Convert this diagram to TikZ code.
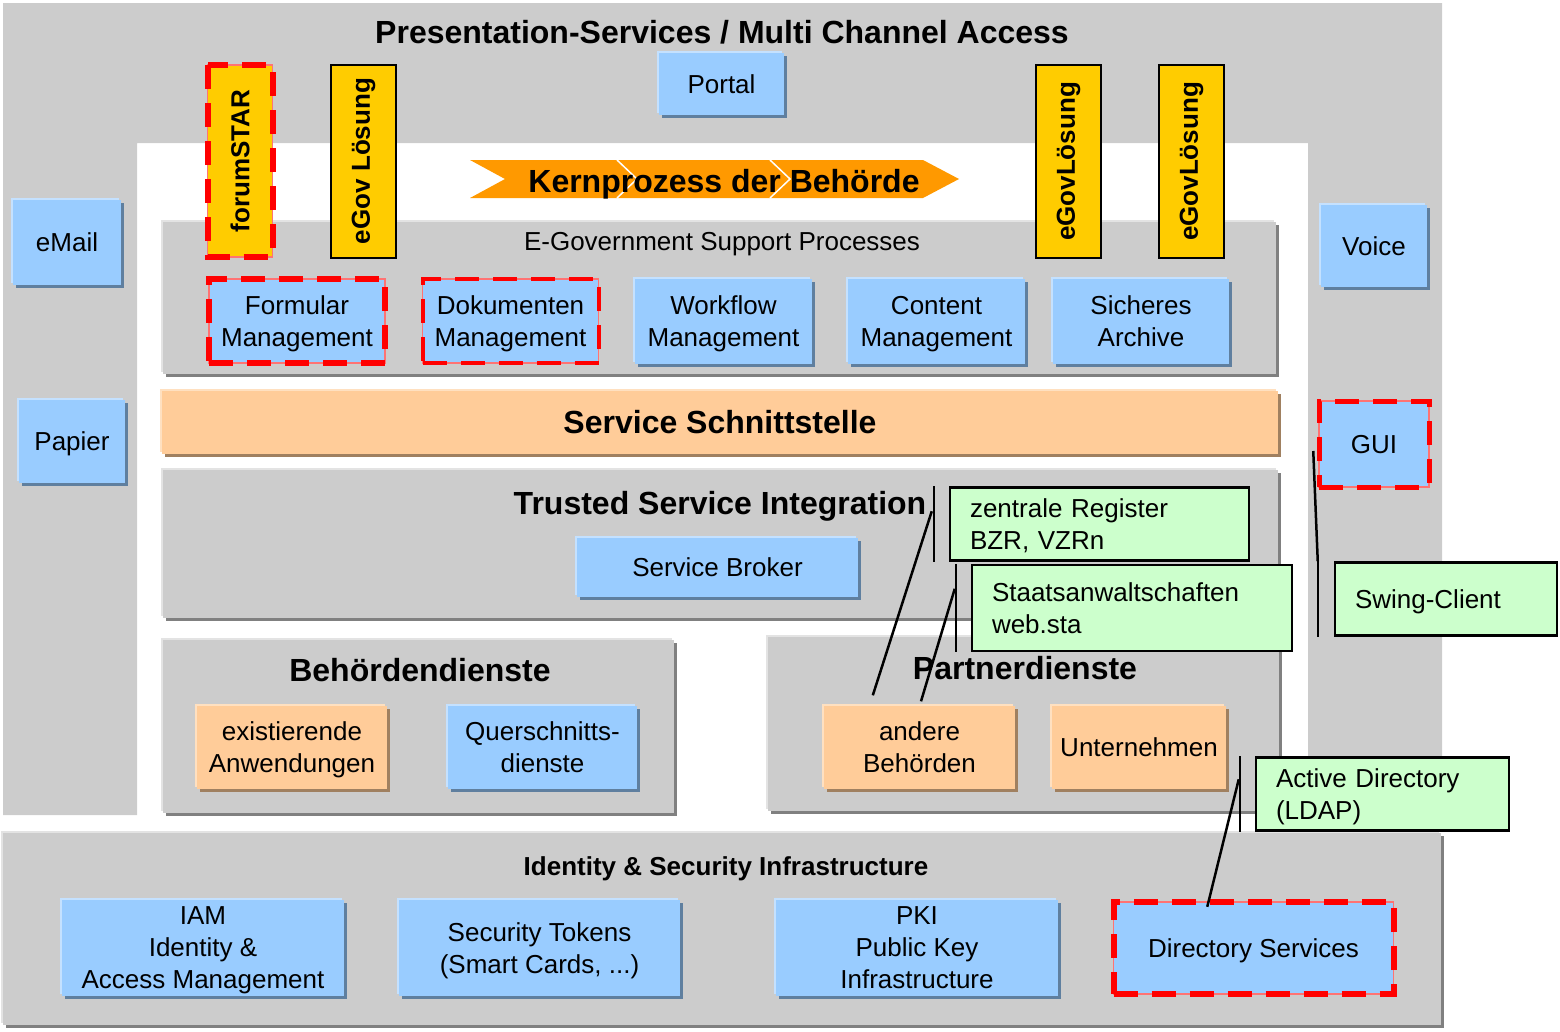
\documentclass[tikz,border=0pt]{standalone}
\usepackage{fontspec}
\setmainfont{Liberation Sans}
\usepackage{tikz}
\usetikzlibrary{arrows,positioning,shadows}
\definecolor{panelgray}{HTML}{CCCCCC}
\definecolor{panellight}{HTML}{E3E3E3}
\definecolor{paneldark}{HTML}{808080}
\definecolor{svcblue}{HTML}{99CCFF}
\definecolor{svclight}{HTML}{C4E1FF}
\definecolor{svcdark}{HTML}{5F7F9F}
\definecolor{peach}{HTML}{FFCC99}
\definecolor{peachlight}{HTML}{FFE0C0}
\definecolor{peachdark}{HTML}{A08060}
\definecolor{solyellow}{HTML}{FFCC00}
\definecolor{notegreen}{HTML}{CCFFCC}
\definecolor{coreorange}{HTML}{FF9900}
\newcommand{\normaltext}{\fontsize{26}{32}\selectfont}
\newcommand{\titletext}{\fontsize{32}{38}\selectfont\bfseries}
\tikzset{
    %Define standard arrow tip
    >=stealth',
    %Define 3d look for boxes
    raised/.style 2 args={
           general shadow={shadow xshift=-2pt, shadow yshift=2pt, fill=#1},
           general shadow={shadow xshift=3pt, shadow yshift=-3pt, fill=#2}},
    %Define style for boxes
    panel/.style={
           rectangle,
           fill=panelgray,
           raised={panellight}{paneldark},
           inner sep=0pt},
    service/.style={
           rectangle,
           fill=svcblue,
           raised={svclight}{svcdark},
           font=\normaltext,
           align=center,
           text depth=0pt,
           inner sep=0pt},
    redservice/.style={
           rectangle,
           fill=svcblue,
           font=\normaltext,
           align=center,
           text depth=0pt,
           inner sep=0pt},
    partner/.style={
           rectangle,
           fill=peach,
           raised={peachlight}{peachdark},
           font=\normaltext,
           align=center,
           text depth=0pt,
           inner sep=0pt},
    solution/.style={
           rectangle,
           fill=solyellow,
           draw=black, line width=2pt,
           font=\fontsize{26}{32}\selectfont\bfseries,
           inner sep=0pt},
    note/.style={
           rectangle,
           fill=notegreen,
           draw=black, line width=2.5pt,
           font=\normaltext,
           align=left,
           inner xsep=20pt, inner ysep=0pt},
    redmark/.style={
           draw=red!55, line width=1.5pt,
           postaction={draw=red, line width=#1, dash pattern=on 24pt off 14pt}},
    redmark/.default=5pt,
    title/.style={font=\titletext, text depth=0pt, inner sep=0pt},
    % Define callout line style
    callline/.style={
           draw=black,
           line width=2.5pt}
}
\begin{document}
\begin{tikzpicture}[x=1pt,y=-1pt]
\useasboundingbox (0,0) rectangle (1560,1031);
 %presentation frame
\fill[panelgray] (3,3) -- (1442,3) -- (1442,815) -- (1308,815) -- (1308,143)
   -- (137,143) -- (137,815) -- (3,815) -- cycle;
\node[title] (pres) at (722,32) {Presentation-Services / Multi Channel Access};
\node[service, minimum width=125pt, minimum height=62pt] (portal) at (721.5,84) {Portal};
\node[service, minimum width=108pt, minimum height=85pt] (email) at (67,242) {eMail};
\node[service, minimum width=106pt, minimum height=83pt] (papier) at (72,441) {Papier};
\node[service, minimum width=106pt, minimum height=82pt] (voice) at (1374,246) {Voice};
\node[redservice, redmark, minimum width=110pt, minimum height=86pt] (gui) at (1374,444) {GUI};
 %core process
\fill[coreorange] (470,160) -- (923,160) -- (959,179) -- (923,198) -- (470,198) -- (505,179) -- cycle;
\draw[white, line width=1.5pt] (617,160) -- (637,179) -- (617,198);
\draw[white, line width=1.5pt] (770,160) -- (790,179) -- (770,198);
\node[title] (kern) at (724,181) {Kernprozess der Behörde};
 %support processes
\node[panel, minimum width=1113pt, minimum height=152pt] (support) at (719.5,298) {};
\node[font=\normaltext, text depth=0pt, inner sep=0pt] (supportlbl) at (722,241) {E-Government Support Processes};
\node[redservice, redmark=6pt, minimum width=176pt, minimum height=84pt] (formular) at (297,321) {Formular\\Management};
\node[redservice, redmark=4pt, minimum width=176pt, minimum height=84pt] (dokumente) at (510.5,321) {Dokumenten\\Management};
\node[service, minimum width=177pt, minimum height=85pt] (workflow) at (723.5,321) {Workflow\\Management};
\node[service, minimum width=177pt, minimum height=85pt] (content) at (936.5,321) {Content\\Management};
\node[service, minimum width=176pt, minimum height=85pt] (archiv) at (1141,321) {Sicheres\\Archive};
 %egov solutions
\node[solution, fill=solyellow, draw=none, redmark=6pt, rotate=90, minimum width=192pt, minimum height=65pt] (forum) at (240,161) {forumSTAR};
\node[solution, rotate=90, minimum width=193pt, minimum height=65pt] (egov1) at (363.5,161) {eGov Lösung};
\node[solution, rotate=90, minimum width=193pt, minimum height=65pt] (egov2) at (1068.5,161.5) {eGovLösung};
\node[solution, rotate=90, minimum width=193pt, minimum height=65pt] (egov3) at (1191.5,161.5) {eGovLösung};
 %service interface
\node[partner, font=\titletext, minimum width=1116pt, minimum height=63pt] (schnitt) at (720,422) {Service Schnittstelle};
 %trusted service integration
\node[panel, minimum width=1115pt, minimum height=148pt] (trusted) at (720.5,544) {};
\node[title] (trustedlbl) at (720,503) {Trusted Service Integration};
\node[service, minimum width=281pt, minimum height=59pt] (broker) at (717.5,567) {Service Broker};
 %authority services
\node[panel, minimum width=511pt, minimum height=173pt] (behoerde) at (418.5,726.5) {};
\node[title] (behoerdelbl) at (420,670) {Behördendienste};
\node[partner, minimum width=190pt, minimum height=83pt] (exist) at (292,747) {existierende\\Anwendungen};
\node[service, minimum width=189pt, minimum height=83pt] (quer) at (542.5,747) {Querschnitts-\\dienste};
 %partner services
\node[panel, minimum width=511pt, minimum height=174pt] (partner) at (1023.5,724) {};
\node[title] (partnerlbl) at (1025,668) {Partnerdienste};
\node[partner, minimum width=191pt, minimum height=83pt] (ab) at (919.5,747) {andere\\Behörden};
\node[partner, minimum width=174pt, minimum height=83pt] (firma) at (1139,747) {Unternehmen};
 %identity and security
\node[panel, minimum width=1438pt, minimum height=192pt] (identity) at (722,929) {};
\node[title, font=\fontsize{26}{32}\selectfont\bfseries] (identitylbl) at (726,866) {Identity \& Security Infrastructure};
\node[service, minimum width=282pt, minimum height=96pt] (iam) at (203,948) {IAM\\Identity \&\\Access Management};
\node[service, minimum width=281pt, minimum height=96pt] (token) at (539.5,948) {Security Tokens\\(Smart Cards, ...)};
\node[service, minimum width=282pt, minimum height=96pt] (pki) at (917,948) {PKI\\Public Key\\Infrastructure};
\node[redservice, redmark=6pt, minimum width=280pt, minimum height=92pt] (ds) at (1253.5,948) {Directory Services};
 %callouts
\node[note, text width=259pt, text depth=32pt, minimum height=73pt] (zr) at (1099.5,524) {zentrale Register\\BZR, VZRn};
\node[note, text width=280pt, text depth=32pt, minimum height=86pt] (sa) at (1132,608) {Staatsanwaltschaften\\web.sta};
\node[note, text width=182pt, text depth=0pt, minimum height=73pt] (sc) at (1446,599) {Swing-Client};
\node[note, text width=213pt, text depth=32pt, minimum height=73pt] (ad) at (1382.5,794) {Active Directory\\(LDAP)};
\draw[callline] ([xshift=-15pt]zr.north west) -- ([xshift=-15pt]zr.south west);
\draw[callline] ([xshift=-17pt,yshift=-25pt]zr.north west) -- ([xshift=49pt,yshift=10pt]ab.north west);
\draw[callline] ([xshift=-15pt]sa.north west) -- ([xshift=-15pt]sa.south west);
\draw[callline] ([xshift=-16pt,yshift=-25pt]sa.north west) -- ([xshift=1.5pt,yshift=4pt]ab.north);
\draw[callline] ([xshift=-16pt]sc.north west) -- ([xshift=-16pt]sc.south west);
\draw[callline] ([xshift=-5pt,yshift=-7pt]gui.west) -- ([xshift=-16pt]sc.north west);
\draw[callline] ([xshift=-15pt]ad.north west) -- ([xshift=-15pt]ad.south west);
\draw[callline] ([xshift=-16pt,yshift=-23pt]ad.north west) -- ([xshift=94.5pt,yshift=-5.5pt]ds.north west);
\end{tikzpicture}
\end{document}
